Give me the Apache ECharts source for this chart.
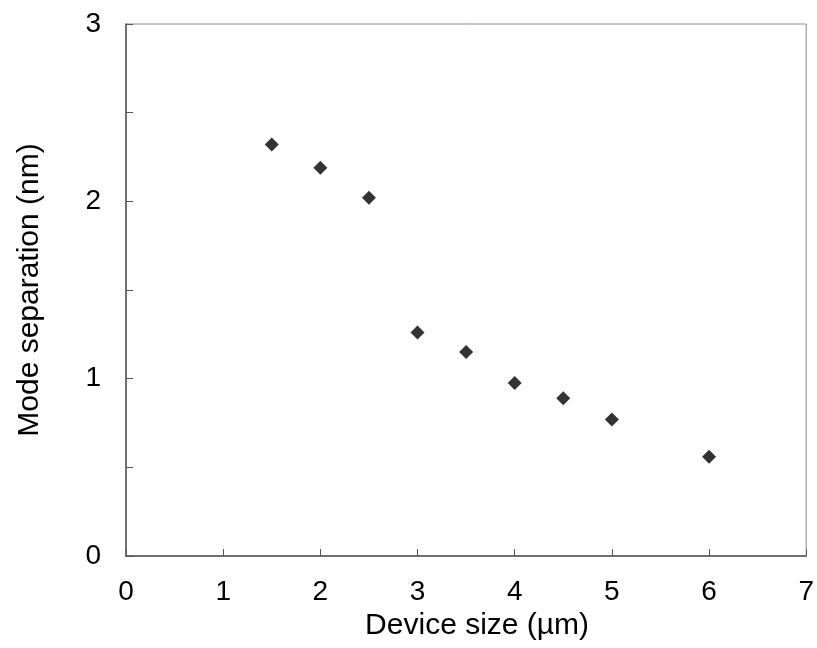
<!DOCTYPE html>
<html>
<head>
<meta charset="utf-8">
<script src="https://cdn.jsdelivr.net/npm/echarts@6/dist/echarts.min.js"></script>
<style>
  html, body { margin: 0; padding: 0; background: #fff; }
  #chart { width: 817px; height: 648px; }
</style>
</head>
<body>
<div id="chart"></div>
<script>
// device size (um) and measured mode separation (nm)
const deviceSize = [1.5, 2.0, 2.5, 3.0, 3.5, 4.0, 4.5, 5.0, 6.0];
const modeSeparation = [2.32, 2.19, 2.02, 1.26, 1.15, 0.975, 0.89, 0.77, 0.56];

const font = 'Liberation Sans, Arial, sans-serif';

const chart = echarts.init(document.getElementById('chart'));
const option = {
  animation: false,
  grid: {
    left: 126, top: 24, right: 10, bottom: 92,
    show: true,
    borderColor: '#8a8a8a',
    borderWidth: 1
  },
  xAxis: {
    type: 'value',
    min: 0, max: 7, interval: 1,
    name: 'Device size (µm)',
    nameLocation: 'middle',
    nameGap: 30,
    nameTextStyle: { fontFamily: font, fontSize: 30, color: '#000', padding: [0, 0, 0, 22] },
    axisLine: { show: true, lineStyle: { color: '#555', width: 1.5 } },
    axisTick: { show: true, inside: true, length: 7, lineStyle: { color: '#555' } },
    axisLabel: { fontFamily: font, fontSize: 28, color: '#000', margin: 22 },
    splitLine: { show: false }
  },
  yAxis: {
    type: 'value',
    min: 0, max: 3, interval: 0.5,
    name: 'Mode separation (nm)',
    nameLocation: 'middle',
    nameGap: 81,
    nameTextStyle: { fontFamily: font, fontSize: 30, color: '#000' },
    axisLine: { show: true, lineStyle: { color: '#555', width: 1.5 } },
    axisTick: { show: true, inside: true, length: 7, lineStyle: { color: '#555' } },
    axisLabel: {
      fontFamily: font, fontSize: 28, color: '#000', margin: 25,
      formatter: v => (Number.isInteger(v) ? String(v) : '')
    },
    splitLine: { show: false }
  },
  series: [
    {
      type: 'scatter',
      data: deviceSize.map((x, i) => [x, modeSeparation[i]]),
      symbol: 'diamond',
      symbolSize: 14,
      itemStyle: { color: '#000' }
    }
  ]
};
chart.setOption(option);
</script>
</body>
</html>
